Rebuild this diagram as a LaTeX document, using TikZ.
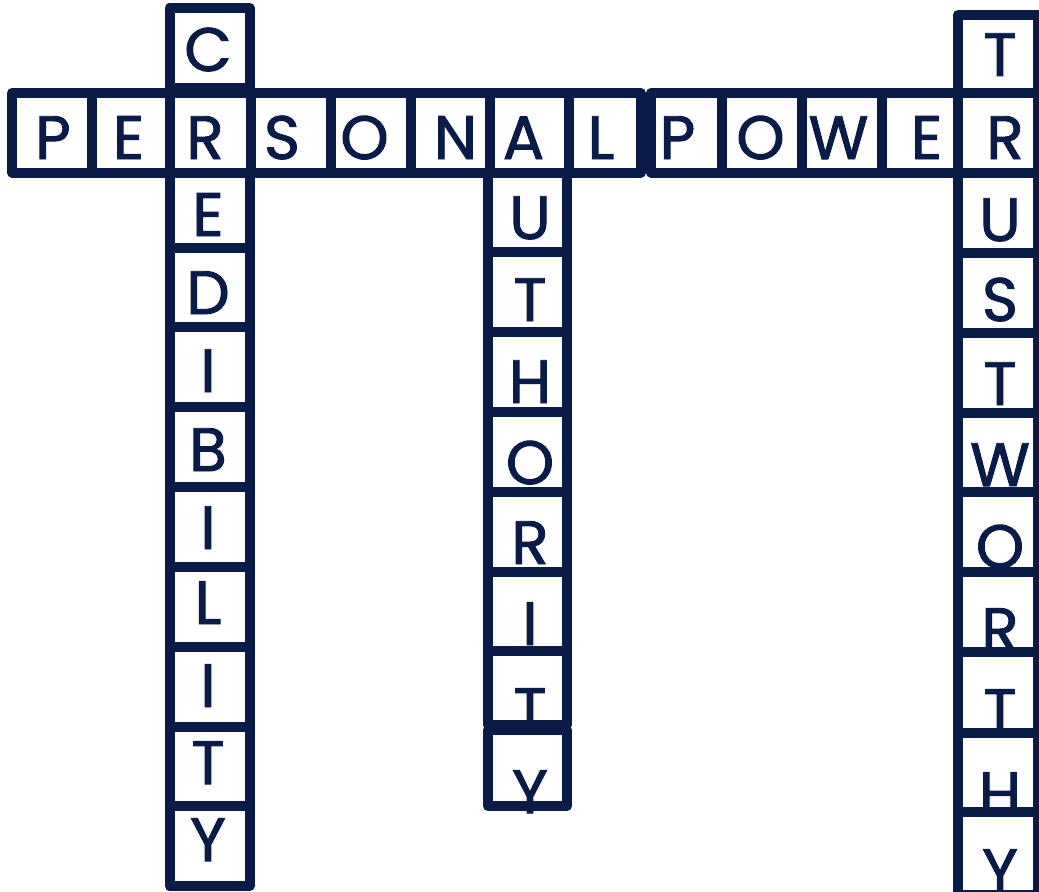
\documentclass[tikz,border=0pt]{standalone}
\usepackage{fontspec}
\setmainfont{Poppins}
\font\lettfont="Poppins:embolden=1.6" at 46pt
\definecolor{navy}{RGB}{11,27,71}
\tikzset{
  cellbox/.style={draw=navy, line width=7.5pt, line join=round},
  letter/.style={anchor=base, inner sep=0pt, text=navy, font=\lettfont}
}
\begin{document}
\begin{tikzpicture}[x=0.75pt,y=-0.75pt]
\useasboundingbox (0,0) rectangle (1039,892);
% ---- letters: horizontal row (baseline = top + 44)
\foreach \cx/\t/\n in {53/P/h1,128.5/E/h2,205/R/h3,282/S/h4,364.5/O/h5,455.5/N/h6,523.5/A/h7,601/L/h8,677.5/P/h9,760.5/O/h10,838.5/W/h11,926.5/E/h12,1005/R/h13}
  \node[letter] (\n) at (\cx,159) {\t};
% ---- CREDIBILITY
\foreach \top/\t/\n in {27/C/c1,192/E/c3,270/D/c4,348/I/c5,427/B/c6,505/I/c7,580/L/c8,663/I/c9,740/T/c10,817/Y/c11}
  \node[letter] (\n) at (208,\top+44) {\t};
% ---- AUTHORITY
\foreach \top/\t/\n in {195/U/a2,277/T/a3,359/H/a4,440/O/a5,520/R/a6,601/I/a7,687/T/a8,769/Y/a9}
  \node[letter] (\n) at (530,\top+44) {\t};
% ---- TRUSTWORTHY
\foreach \top/\t/\n in {32/T/t1,197/U/t3,277/S/t4,361/T/t5,442/W/t6,524/O/t7,607/R/t8,688/T/t9,771/H/t10,848/Y/t11}
  \node[letter] (\n) at (1000,\top+44) {\t};
% ---- row cells
\foreach \xa/\xb in {12/92,92/170,170/250.5,250.5/330.5,330.5/410.5,410.5/489.5,489.5/569,569/641,651/722,722/802,802/881.5,881.5/958,958/1038}
  \draw[cellbox] (\xa,93) rectangle (\xb,172.5);
% ---- CREDIBILITY cells
\draw[cellbox] (169.5,8) rectangle (249.5,88);
\foreach \ya/\yb in {172.5/247.5,247.5/327,327/406.5,406.5/486.5,486.5/566.5,566.5/647,647/727,727/806,806/886}
  \draw[cellbox] (169.5,\ya) rectangle (249.5,\yb);
% ---- AUTHORITY cells
\foreach \ya/\yb in {172.5/252,252/332,332/412,412/492,492/572,572/651,651/725,730/806}
  \draw[cellbox] (488,\ya) rectangle (567,\yb);
% ---- TRUSTWORTHY cells
\draw[cellbox] (958,15) rectangle (1038,93);
\foreach \ya/\yb in {172.5/253,253/332.5,332.5/412.5,412.5/492,492/572,572/652,652/732.5,732.5/812,812/895}
  \draw[cellbox] (958,\ya) rectangle (1038,\yb);
\end{tikzpicture}
\end{document}
